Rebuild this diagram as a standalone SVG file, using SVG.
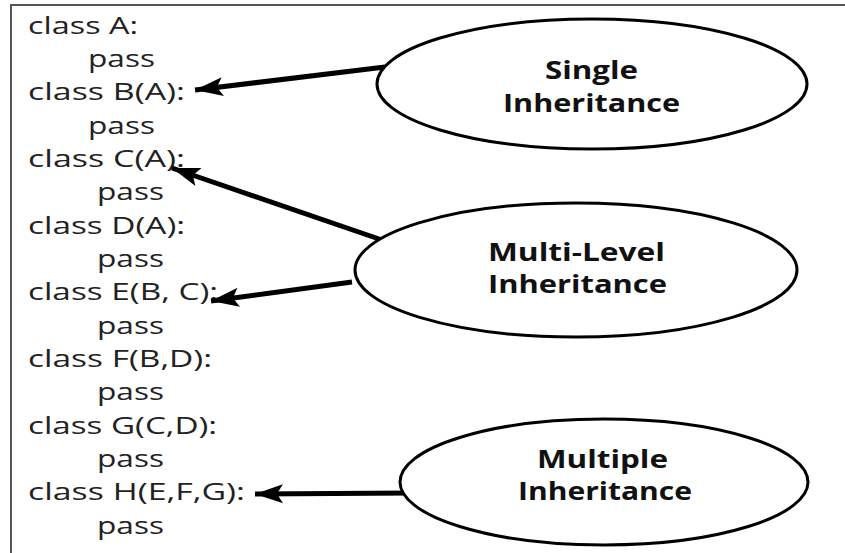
<svg xmlns="http://www.w3.org/2000/svg" width="845" height="553" viewBox="0 0 845 553">
  <style>
    .code { font-family: "Open Sans", "Liberation Sans", sans-serif; font-size: 23px; fill: #222; }
    .label { font-family: "Open Sans", "Liberation Sans", sans-serif; font-size: 25px; font-weight: bold; fill: #111; }
    .oval { fill: #fff; stroke: #000; stroke-width: 3; }
    .link { stroke: #000; stroke-width: 5; fill: none; marker-end: url(#head); }
    .frame { stroke: #555; stroke-width: 2; fill: none; }
  </style>
  <defs>
    <marker id="head" markerUnits="userSpaceOnUse" markerWidth="32" markerHeight="22" viewBox="0 -11 32 22" refX="28" refY="0" orient="auto">
      <path d="M0,-9.5 L28,0 L0,9.5 L6,0 Z" fill="#000"/>
    </marker>
  </defs>

  <rect width="845" height="553" fill="#fff"/>
  <path class="frame" d="M11,553 V5 H845"/>

  <!-- source listing -->
  <g id="code">
    <text class="code" x="28" y="34" textLength="110" lengthAdjust="spacingAndGlyphs">class A:</text>
    <text class="code" x="88" y="67" textLength="67" lengthAdjust="spacingAndGlyphs">pass</text>
    <text class="code" x="28" y="100" textLength="157" lengthAdjust="spacingAndGlyphs">class B(A):</text>
    <text class="code" x="88" y="134" textLength="67" lengthAdjust="spacingAndGlyphs">pass</text>
    <text class="code" x="28" y="167" textLength="157" lengthAdjust="spacingAndGlyphs">class C(A):</text>
    <text class="code" x="97" y="200" textLength="67" lengthAdjust="spacingAndGlyphs">pass</text>
    <text class="code" x="28" y="234" textLength="157" lengthAdjust="spacingAndGlyphs">class D(A):</text>
    <text class="code" x="97" y="267" textLength="67" lengthAdjust="spacingAndGlyphs">pass</text>
    <text class="code" x="28" y="300" textLength="190" lengthAdjust="spacingAndGlyphs">class E(B, C):</text>
    <text class="code" x="97" y="334" textLength="67" lengthAdjust="spacingAndGlyphs">pass</text>
    <text class="code" x="28" y="367" textLength="184" lengthAdjust="spacingAndGlyphs">class F(B,D):</text>
    <text class="code" x="97" y="400" textLength="67" lengthAdjust="spacingAndGlyphs">pass</text>
    <text class="code" x="28" y="434" textLength="189" lengthAdjust="spacingAndGlyphs">class G(C,D):</text>
    <text class="code" x="97" y="467" textLength="67" lengthAdjust="spacingAndGlyphs">pass</text>
    <text class="code" x="28" y="500" textLength="217" lengthAdjust="spacingAndGlyphs">class H(E,F,G):</text>
    <text class="code" x="97" y="534" textLength="67" lengthAdjust="spacingAndGlyphs">pass</text>
  </g>

  <!-- arrows from each category to the classes it describes -->
  <g id="connectors">
    <line class="link" x1="385" y1="67" x2="195" y2="90"/>
    <line class="link" x1="382" y1="240" x2="172" y2="168"/>
    <line class="link" x1="352" y1="282" x2="211" y2="301"/>
    <line class="link" x1="412" y1="493" x2="255" y2="494"/>
  </g>

  <g id="single">
    <ellipse class="oval" cx="592" cy="84" rx="215" ry="65"/>
    <text class="label" x="545" y="79" textLength="93" lengthAdjust="spacingAndGlyphs">Single</text>
    <text class="label" x="503" y="112" textLength="177" lengthAdjust="spacingAndGlyphs">Inheritance</text>
  </g>

  <g id="multilevel">
    <ellipse class="oval" cx="576" cy="270" rx="221" ry="67"/>
    <text class="label" x="488" y="261" textLength="177" lengthAdjust="spacingAndGlyphs">Multi-Level</text>
    <text class="label" x="488" y="293" textLength="179" lengthAdjust="spacingAndGlyphs">Inheritance</text>
  </g>

  <g id="multiple">
    <ellipse class="oval" cx="604" cy="482" rx="204" ry="63"/>
    <text class="label" x="537" y="468" textLength="131" lengthAdjust="spacingAndGlyphs">Multiple</text>
    <text class="label" x="518" y="500" textLength="174" lengthAdjust="spacingAndGlyphs">Inheritance</text>
  </g>
</svg>
